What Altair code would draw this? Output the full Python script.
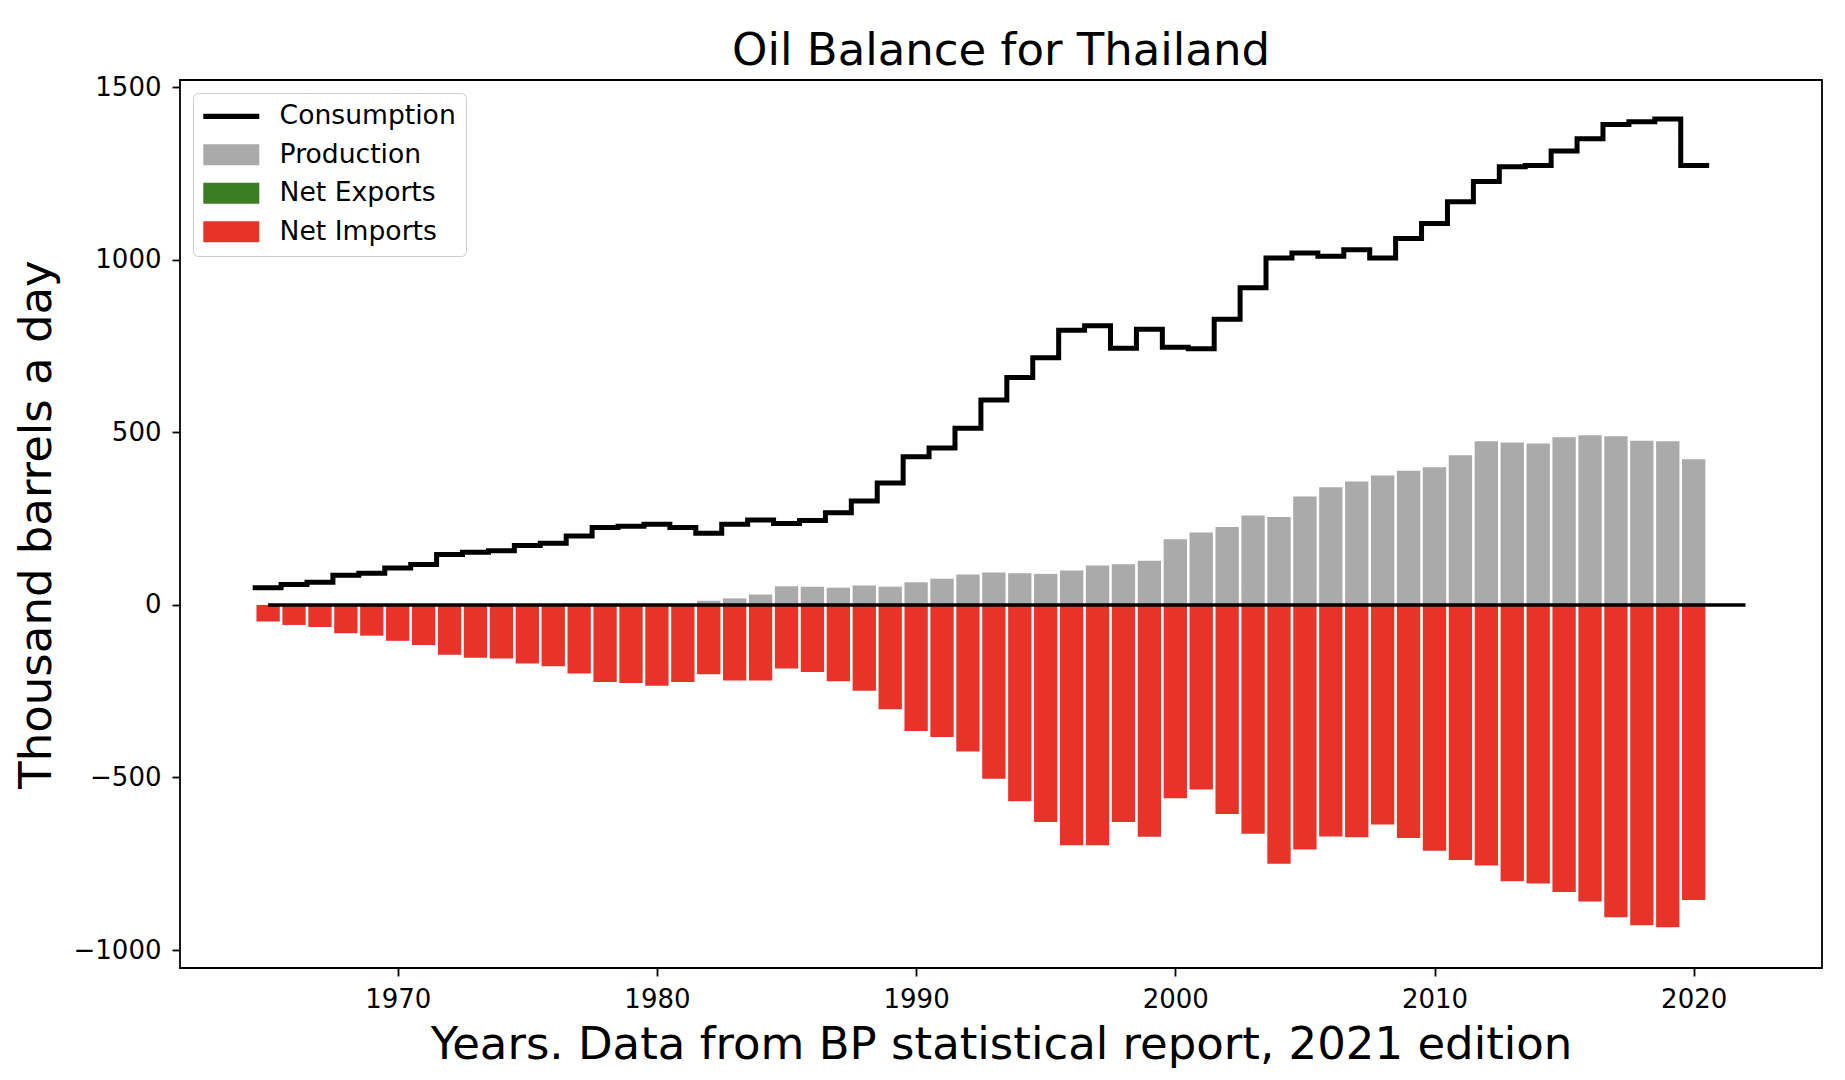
import altair as alt
import pandas as pd

# Oil balance for Thailand, thousand barrels a day (BP statistical review, 2021 edition)
years = list(range(1965, 2021))

consumption = [
    50, 59, 66, 86, 92, 107, 117, 146, 153, 157,
    172, 179, 200, 224, 228, 234, 224, 208, 234, 246,
    236, 245, 267, 301, 353, 429, 455, 512, 594, 659,
    716, 796, 809, 744, 799, 747, 742, 828, 919, 1005,
    1020, 1010, 1029, 1005, 1062, 1105, 1168, 1227, 1270, 1273,
    1315, 1351, 1392, 1400, 1408, 1273,
]

production = [
    0, 0, 0, 0, 0, 0, 0, 0, 0, 0,
    0, 0, 0, 0, 0, 0, 2, 12, 19, 30,
    54, 53, 50, 56, 53, 66, 76, 88, 94, 92,
    90, 100, 114, 118, 128, 190, 210, 226, 259, 255,
    314, 341, 358, 375, 389, 399, 434, 474, 471, 468,
    486, 492, 489, 476, 474, 422,
]

net_imports = [
    -48, -58, -64, -82, -89, -104, -116, -144, -153, -155,
    -170, -178, -199, -223, -226, -234, -223, -201, -219, -219,
    -184, -194, -221, -249, -302, -365, -383, -425, -504, -569,
    -629, -696, -696, -629, -672, -560, -535, -606, -663, -750,
    -709, -671, -673, -636, -675, -712, -739, -755, -801, -807,
    -832, -859, -905, -928, -934, -855,
]

series_order = ["Consumption", "Production", "Net Exports", "Net Imports"]
series_colors = ["#000000", "#aaaaaa", "#3a7d22", "#e8332a"]

x_ticks = [1970, 1980, 1990, 2000, 2010, 2020]
y_ticks = [-1000, -500, 0, 500, 1000, 1500]
zero_line_span = [1965, 2022]

# styling
FONT = "DejaVu Sans"
BAR_HALF = 0.45
X_DOMAIN = [1961.6, 2024.95]
Y_DOMAIN = [-1052, 1521]
BOX_PATH = "M-2.154,-0.808H2.154V0.808H-2.154Z"
LINE_PATH = "M-2.154,-0.2H2.154V0.2H-2.154Z"

bars = pd.DataFrame({
    "year": years * 2,
    "value": production + net_imports,
    "series": ["Production"] * len(years) + ["Net Imports"] * len(years),
})

# consumption drawn as stairs: each year's level spans year-0.5 .. year+0.5
steps = pd.DataFrame({
    "edge": [y - 0.5 for y in years] + [years[-1] + 0.5],
    "value": consumption + [consumption[-1]],
    "series": ["Consumption"] * (len(years) + 1),
})

zero = pd.DataFrame({"start": [zero_line_span[0]], "end": [zero_line_span[1]], "value": [0]})

x_scale = alt.Scale(domain=X_DOMAIN, nice=False, zero=False)
y_scale = alt.Scale(domain=Y_DOMAIN, nice=False, zero=False)

x_axis = alt.Axis(
    values=x_ticks, format="d", grid=False, domain=False,
    title="Years. Data from BP statistical report, 2021 edition",
    titleFont=FONT, titleFontSize=45, titleFontWeight="normal", titleColor="black",
    titleBaseline="alphabetic", titleY=90,
    labelFont=FONT, labelFontSize=26, labelColor="black", labelPadding=10, labelFlush=False,
    tickColor="black", tickWidth=1.8, tickSize=8,
)
y_axis = alt.Axis(
    values=y_ticks, format="d", grid=False, domain=False,
    title="Thousand barrels a day",
    titleFont=FONT, titleFontSize=45, titleFontWeight="normal", titleColor="black",
    titleAngle=270, titleBaseline="alphabetic", titleAlign="center", titleX=-130, titleY=444,
    labelFont=FONT, labelFontSize=26, labelColor="black", labelPadding=11,
    tickColor="black", tickWidth=1.8, tickSize=8,
)

# line swatch for the consumption entry, filled boxes for the bar series
legend = alt.Legend(
    title=None, orient="none", legendX=13, legendY=13,
    labelFont=FONT, labelFontSize=26.6, labelColor="black", labelLimit=400,
    symbolType=alt.ExprRef(
        f"datum.value === 'Consumption' ? '{LINE_PATH}' : '{BOX_PATH}'"
    ),
    symbolSize=676, symbolOffset=15, labelOffset=35, symbolStrokeWidth=0,
    symbolOpacity=1,
    rowPadding=11.5, padding=10,
    strokeColor="#cccccc", fillColor="white", cornerRadius=5,
)

color = alt.Color(
    "series:N",
    scale=alt.Scale(domain=series_order, range=series_colors),
    legend=legend,
)

bar_layer = (
    alt.Chart(bars)
    .transform_calculate(x0=f"datum.year - {BAR_HALF}", x1=f"datum.year + {BAR_HALF}")
    .mark_bar()
    .encode(
        x=alt.X("x0:Q", scale=x_scale, axis=x_axis),
        x2="x1:Q",
        y=alt.Y("value:Q", scale=y_scale, axis=y_axis),
        y2=alt.datum(0),
        color=color,
    )
)

zero_layer = (
    alt.Chart(zero)
    .mark_rule(color="black", strokeWidth=3.5)
    .encode(x="start:Q", x2="end:Q", y="value:Q")
)

line_layer = (
    alt.Chart(steps)
    .mark_line(interpolate="step-after", strokeWidth=5, strokeCap="square")
    .encode(x="edge:Q", y="value:Q", color=alt.Color("series:N"))
)

chart = (
    alt.layer(bar_layer, zero_layer, line_layer)
    .properties(
        width=1642,
        height=888,
        autosize=alt.AutoSizeParams(type="none"),
        padding={"left": 180, "top": 80, "right": 23, "bottom": 112},
        background="white",
        title=alt.TitleParams(
            "Oil Balance for Thailand", font=FONT, fontSize=45, fontWeight="normal",
            color="black", anchor="middle", frame="group", baseline="alphabetic",
            offset=16, dy=52,
        ),
    )
    .configure_view(stroke="black", strokeWidth=1.8)
)

chart.save("out.html", embed_options={"renderer": "svg", "actions": False})
